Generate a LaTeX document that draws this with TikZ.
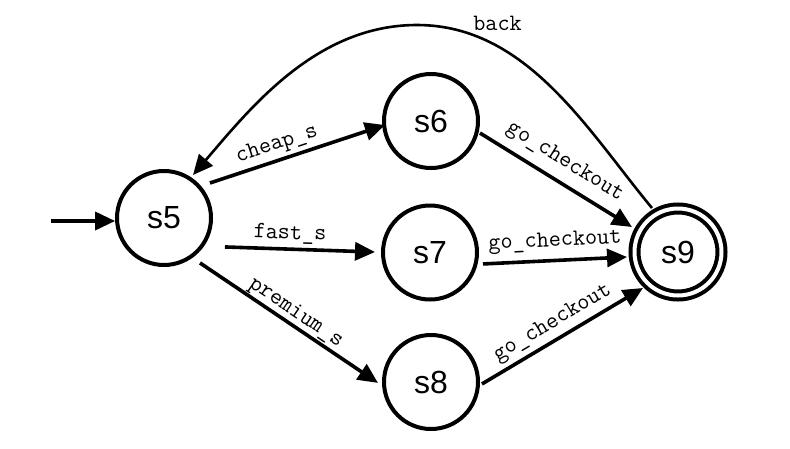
\documentclass[tikz,border=0pt]{standalone}
\usepackage{fontspec}
\setmainfont{Liberation Sans}
\usetikzlibrary{arrows.meta,calc}
\begin{document}
\begin{tikzpicture}[x=1pt,y=-1pt,
  state/.style={circle, draw, line width=4pt, minimum size=94pt, inner sep=0pt, font=\fontsize{32}{32}\selectfont},
  accept/.style={circle, draw, line width=4pt, double, double distance=4pt, minimum size=87pt, inner sep=0pt, outer sep=6pt, font=\fontsize{32}{32}\selectfont},
  edge/.style={line width=3.6pt, -{Triangle[length=20pt,width=18pt]}},
  backedge/.style={line width=2.6pt, -{Triangle[length=20pt,width=18pt]}},
  lbltxt/.style={font=\ttfamily\fontsize{23.5}{23.5}\selectfont, inner sep=0pt, text height=14pt, text depth=4pt},
  lbl/.style={lbltxt, sloped}
]
\useasboundingbox[fill=white] (0,0) rectangle (790,448);
\node[state] (s5) at (164,218) {s5};
\node[state] (s6) at (431,121) {s6};
\node[state] (s7) at (430,252.5) {s7};
\node[state] (s8) at (431,382) {s8};
\node[accept] (s9) at (678,252) {s9};
\coordinate (init) at (51,221);

\draw[edge] (init) -- ($(s5)+(183.5:49pt)$);
\draw[edge] ($(s5)+(37.3:57.8pt)$) -- node[lbl, pos=0.41, above=5pt] {cheap\_s} ($(s6)+(185:46.2pt)$);
\draw[edge] ($(s5)+(-25.4:67.5pt)$) -- node[lbl, pos=0.43, above=4.2pt] {fast\_s} ($(s7)+(179.5:55pt)$);
\draw[edge] ($(s5)+(-51.3:57.6pt)$) -- node[lbl, pos=0.5, above=1.8pt] {premium\_s} ($(s8)+(181:53pt)$);
\draw[edge] ($(s6)+(-13.8:50.4pt)$) -- node[lbl, pos=0.49, above=9.7pt] {go\_checkout} ($(s9)+(151.5:52.4pt)$);
\draw[edge] ($(s7)+(-12.2:54.2pt)$) -- node[lbl, pos=0.506, above=8.5pt] {go\_checkout} ($(s9)+(185.6:51.2pt)$);
\draw[edge] ($(s8)+(-2.2:51pt)$) -- node[lbl, pos=0.49, above=5.7pt] {go\_checkout} ($(s9)+(225.8:50.2pt)$);
\draw[backedge] ($(s9)+(120.6:51.1pt)$) .. controls (588,131) and (527,25) .. (417,25)
  .. controls (317,25) and (251.5,106.6) .. ($(s5)+(56:51.9pt)$);
\node[lbltxt] (lback) at (497.5,25) {back};
\end{tikzpicture}
\end{document}
